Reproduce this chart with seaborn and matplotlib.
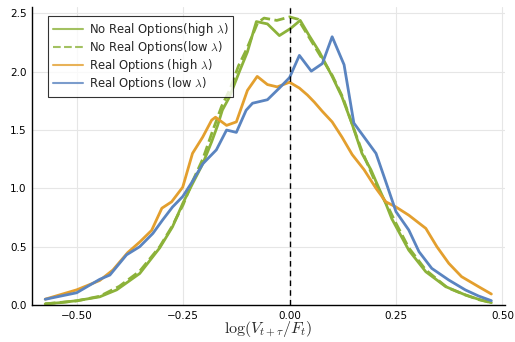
import numpy as np
import pandas as pd
import seaborn as sns
import matplotlib
matplotlib.use("Agg")
import matplotlib.pyplot as plt

# log(V_{t+tau}/F_t) density estimates
nro_high_x = [-0.574, -0.539, -0.500, -0.446, -0.406, -0.352, -0.305, -0.275, -0.251, -0.228,
              -0.204, -0.183, -0.169, -0.158, -0.141, -0.118, -0.099, -0.078, -0.052, -0.024,
              0.002, 0.025, 0.046, 0.070, 0.100, 0.123, 0.147, 0.170, 0.191, 0.210,
              0.226, 0.240, 0.280, 0.320, 0.367, 0.413, 0.444, 0.474]
nro_high_y = [0.01, 0.02, 0.037, 0.07, 0.13, 0.27, 0.49, 0.67, 0.87, 1.04,
              1.21, 1.40, 1.54, 1.67, 1.785, 2.0, 2.17, 2.43, 2.41, 2.31,
              2.37, 2.44, 2.31, 2.17, 1.96, 1.785, 1.55, 1.30, 1.16, 1.00,
              0.87, 0.74, 0.47, 0.285, 0.157, 0.086, 0.049, 0.02]

nro_low_x = [-0.574, -0.500, -0.446, -0.400, -0.352, -0.305, -0.275, -0.250, -0.228, -0.204,
             -0.180, -0.160, -0.140, -0.120, -0.100, -0.075, -0.060, -0.030, 0.000, 0.020,
             0.045, 0.070, 0.100, 0.125, 0.150, 0.170, 0.190, 0.210, 0.230, 0.250,
             0.280, 0.320, 0.370, 0.410, 0.445, 0.474]
nro_low_y = [0.01, 0.035, 0.075, 0.16, 0.29, 0.50, 0.68, 0.86, 1.06, 1.25,
             1.50, 1.70, 1.85, 2.05, 2.20, 2.42, 2.46, 2.44, 2.47, 2.45,
             2.30, 2.15, 1.97, 1.78, 1.52, 1.32, 1.15, 0.98, 0.85, 0.70,
             0.49, 0.30, 0.15, 0.09, 0.045, 0.02]

ro_high_x = [-0.574, -0.500, -0.446, -0.415, -0.380, -0.352, -0.324, -0.300, -0.277, -0.251,
             -0.228, -0.204, -0.183, -0.174, -0.148, -0.125, -0.099, -0.076, -0.052, -0.029,
             0.000, 0.023, 0.042, 0.058, 0.077, 0.100, 0.123, 0.147, 0.175, 0.203,
             0.226, 0.250, 0.280, 0.320, 0.346, 0.374, 0.404, 0.444, 0.474]
ro_high_y = [0.05, 0.13, 0.21, 0.30, 0.45, 0.54, 0.64, 0.83, 0.885, 1.01,
             1.30, 1.44, 1.585, 1.61, 1.54, 1.57, 1.84, 1.96, 1.89, 1.87,
             1.91, 1.86, 1.80, 1.74, 1.66, 1.57, 1.44, 1.29, 1.16, 1.00,
             0.885, 0.84, 0.77, 0.657, 0.50, 0.357, 0.243, 0.157, 0.094]

ro_low_x = [-0.574, -0.500, -0.446, -0.422, -0.383, -0.352, -0.321, -0.298, -0.275, -0.251,
            -0.228, -0.204, -0.172, -0.148, -0.125, -0.102, -0.087, -0.052, -0.024, 0.000,
            0.023, 0.051, 0.077, 0.100, 0.128, 0.151, 0.175, 0.203, 0.226, 0.250,
            0.280, 0.304, 0.334, 0.374, 0.413, 0.444, 0.474]
ro_low_y = [0.049, 0.105, 0.22, 0.257, 0.43, 0.50, 0.614, 0.73, 0.84, 0.93,
            1.06, 1.21, 1.33, 1.50, 1.48, 1.67, 1.73, 1.76, 1.86, 1.95,
            2.14, 2.005, 2.07, 2.30, 2.06, 1.56, 1.44, 1.30, 1.057, 0.80,
            0.643, 0.457, 0.314, 0.214, 0.129, 0.077, 0.037]

labels = ["No Real Options(high $\\lambda$)", "No Real Options(low $\\lambda$)",
          "Real Options (high $\\lambda$)", "Real Options (low $\\lambda$)"]
xticks = [-0.50, -0.25, 0.00, 0.25, 0.50]
yticks = [0.0, 0.5, 1.0, 1.5, 2.0, 2.5]

sns.set_style("whitegrid")
plt.rcParams["font.family"] = ["DejaVu Sans"]
plt.rcParams["mathtext.fontset"] = "cm"


def main():
    fig = plt.figure(figsize=(5.15, 3.42), dpi=100)
    ax = fig.add_axes([32 / 515, 1 - 305 / 342, 473 / 515, 298 / 342])

    series = [
        (nro_high_x, nro_high_y, "#8CB23A", "-"),
        (nro_low_x, nro_low_y, "#8CB23A", "--"),
        (ro_high_x, ro_high_y, "#E39F2E", "-"),
        (ro_low_x, ro_low_y, "#5A84C0", "-"),
    ]
    for (x, y, c, ls), lab in zip(series, labels):
        df = pd.DataFrame({"x": x, "y": y})
        sns.lineplot(data=df, x="x", y="y", ax=ax, color=c, linestyle=ls,
                     linewidth=2.0, label=lab, estimator=None)

    ax.axvline(0, color="black", linestyle=(0, (4, 3)), linewidth=1.0)

    ax.set_xlim(-0.605, 0.506)
    ax.set_ylim(0, 2.555)
    ax.set_xticks(xticks)
    ax.set_xticklabels(["\u22120.50", "\u22120.25", "0.00", "0.25", "0.50"])
    ax.set_yticks(yticks)
    ax.set_yticklabels([f"{v:.1f}" for v in yticks])
    ax.tick_params(labelsize=7.5, direction="in", length=3, width=0.8, colors="black",
                   pad=4)
    ax.grid(True, color="#e6e6e6", linewidth=0.8)
    for side in ["top", "right"]:
        ax.spines[side].set_visible(False)
    for side in ["left", "bottom"]:
        ax.spines[side].set_color("black")
        ax.spines[side].set_linewidth(1.0)

    ax.set_xlabel("$\\log(V_{t+\\tau}/F_t)$", fontsize=11.5, labelpad=-1)
    ax.set_ylabel("")

    leg = ax.legend(loc="upper left", bbox_to_anchor=(0.034, 0.97), fontsize=8.4,
                    frameon=True, fancybox=False, borderpad=0.4, labelspacing=0.1,
                    handlelength=2.6, handletextpad=0.5, borderaxespad=0)
    leg.get_frame().set_edgecolor("black")
    leg.get_frame().set_linewidth(0.8)
    for line in leg.get_lines():
        line.set_linewidth(1.5)
        line.set_alpha(0.8)

    fig.savefig("out.png", dpi=100)
    plt.close(fig)


if __name__ == "__main__":
    main()
